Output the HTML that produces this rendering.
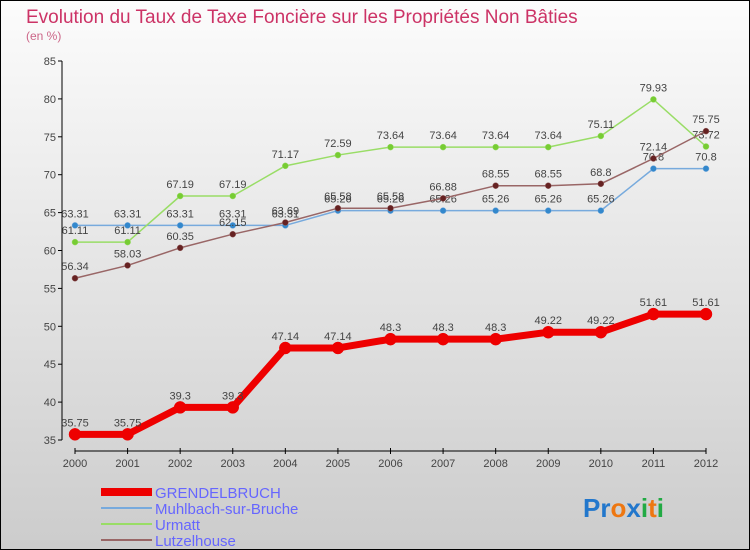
<!DOCTYPE html>
<html><head><meta charset="utf-8"><style>
body{margin:0}
svg{display:block;font-family:"Liberation Sans",sans-serif}
</style></head><body>
<svg id="c" width="750" height="550">
<defs><linearGradient id="bg" x1="0" y1="0" x2="0" y2="1"><stop offset="0" stop-color="#fcfcfc"/><stop offset="1" stop-color="#cccccc"/></linearGradient></defs>
<rect x="0.5" y="0.5" width="749" height="549" fill="url(#bg)" stroke="#000"/>
<text x="26" y="23" font-size="19" fill="#cc3366">Evolution du Taux de Taxe Foncière sur les Propriétés Non Bâties</text>
<text x="26" y="40" font-size="12" fill="#cc6688">(en %)</text>
<g id="axes"></g><g id="series"></g>
<g>
<line x1="101" y1="492" x2="152" y2="492" stroke="#ee0000" stroke-width="8"/>
<text x="155" y="498" font-size="15" fill="#6666ff">GRENDELBRUCH</text>
<line x1="101" y1="508" x2="152" y2="508" stroke="#77aadd" stroke-width="2"/>
<text x="155" y="514" font-size="15" fill="#6666ff">Muhlbach-sur-Bruche</text>
<line x1="101" y1="524" x2="152" y2="524" stroke="#99dd66" stroke-width="2"/>
<text x="155" y="530" font-size="15" fill="#6666ff">Urmatt</text>
<line x1="101" y1="540" x2="152" y2="540" stroke="#996666" stroke-width="2"/>
<text x="155" y="546" font-size="15" fill="#6666ff">Lutzelhouse</text>
</g>
<text x="583" y="517" font-size="26" font-weight="bold"><tspan fill="#2277cc">Pr</tspan><tspan fill="#ee7711">o</tspan><tspan fill="#2277cc">x</tspan><tspan fill="#22aa44">i</tspan><tspan fill="#ee7711">t</tspan><tspan fill="#22aa44">i</tspan></text>
</svg>
<script>
const years=[2000,2001,2002,2003,2004,2005,2006,2007,2008,2009,2010,2011,2012];
const yTicks=[35,40,45,50,55,60,65,70,75,80,85];
const grendelbruch=[35.75,35.75,39.3,39.3,47.14,47.14,48.3,48.3,48.3,49.22,49.22,51.61,51.61];
const muhlbach=[63.31,63.31,63.31,63.31,63.31,65.26,65.26,65.26,65.26,65.26,65.26,70.8,70.8];
const urmatt=[61.11,61.11,67.19,67.19,71.17,72.59,73.64,73.64,73.64,73.64,75.11,79.93,73.72];
const lutzelhouse=[56.34,58.03,60.35,62.15,63.69,65.58,65.58,66.88,68.55,68.55,68.8,72.14,75.75];
const NS='http://www.w3.org/2000/svg';
const xs=i=>75+i*(706-75)/(years.length-1);
const ys=v=>440-(v-35)*(440-61)/50;
function mk(t,a,p){const e=document.createElementNS(NS,t);for(const k in a)e.setAttribute(k,a[k]);p.appendChild(e);return e;}
const ax=document.getElementById('axes');
let yl=mk('line',{x1:62,y1:ys(85),x2:62,y2:ys(35),stroke:'#000'},ax);


let xl=mk('line',{x1:75,y1:451,x2:706,y2:451,stroke:'#000'},ax);


yTicks.forEach(v=>{mk('line',{x1:58,y1:ys(v),x2:62,y2:ys(v),stroke:'#000'},ax);
const t=mk('text',{x:56,y:ys(v)+4,'font-size':11,fill:'#444','text-anchor':'end'},ax);t.textContent=v;

});
years.forEach((y,i)=>{mk('line',{x1:xs(i),y1:448,x2:xs(i),y2:454,stroke:'#000'},ax);
const t=mk('text',{x:xs(i),y:467,'font-size':11,fill:'#444','text-anchor':'middle'},ax);t.textContent=y;

});
const sg=document.getElementById('series');
function draw(name,d,col,w,r,dot){const g=mk('g',{},sg);


mk('polyline',{points:d.map((v,i)=>xs(i)+','+ys(v)).join(' '),fill:'none',stroke:col,'stroke-width':w,'stroke-linejoin':'round'},g);
d.forEach((v,i)=>{const c=mk('circle',{cx:xs(i),cy:ys(v),r:r,fill:dot,stroke:col,'stroke-width':0.5},g);


const t=mk('text',{x:xs(i),y:ys(v)-8,'font-size':11,fill:'#444','text-anchor':'middle'},g);t.textContent=v;

});}
draw('muhlbach',muhlbach,'#77aadd',1.5,3,'#3388cc');
draw('urmatt',urmatt,'#99dd66',1.5,3,'#77cc33');
draw('lutzelhouse',lutzelhouse,'#996666',1.5,3,'#662222');
draw('grendelbruch',grendelbruch,'#ee0000',7,6,'#ee0000');
</script>
</body></html>
